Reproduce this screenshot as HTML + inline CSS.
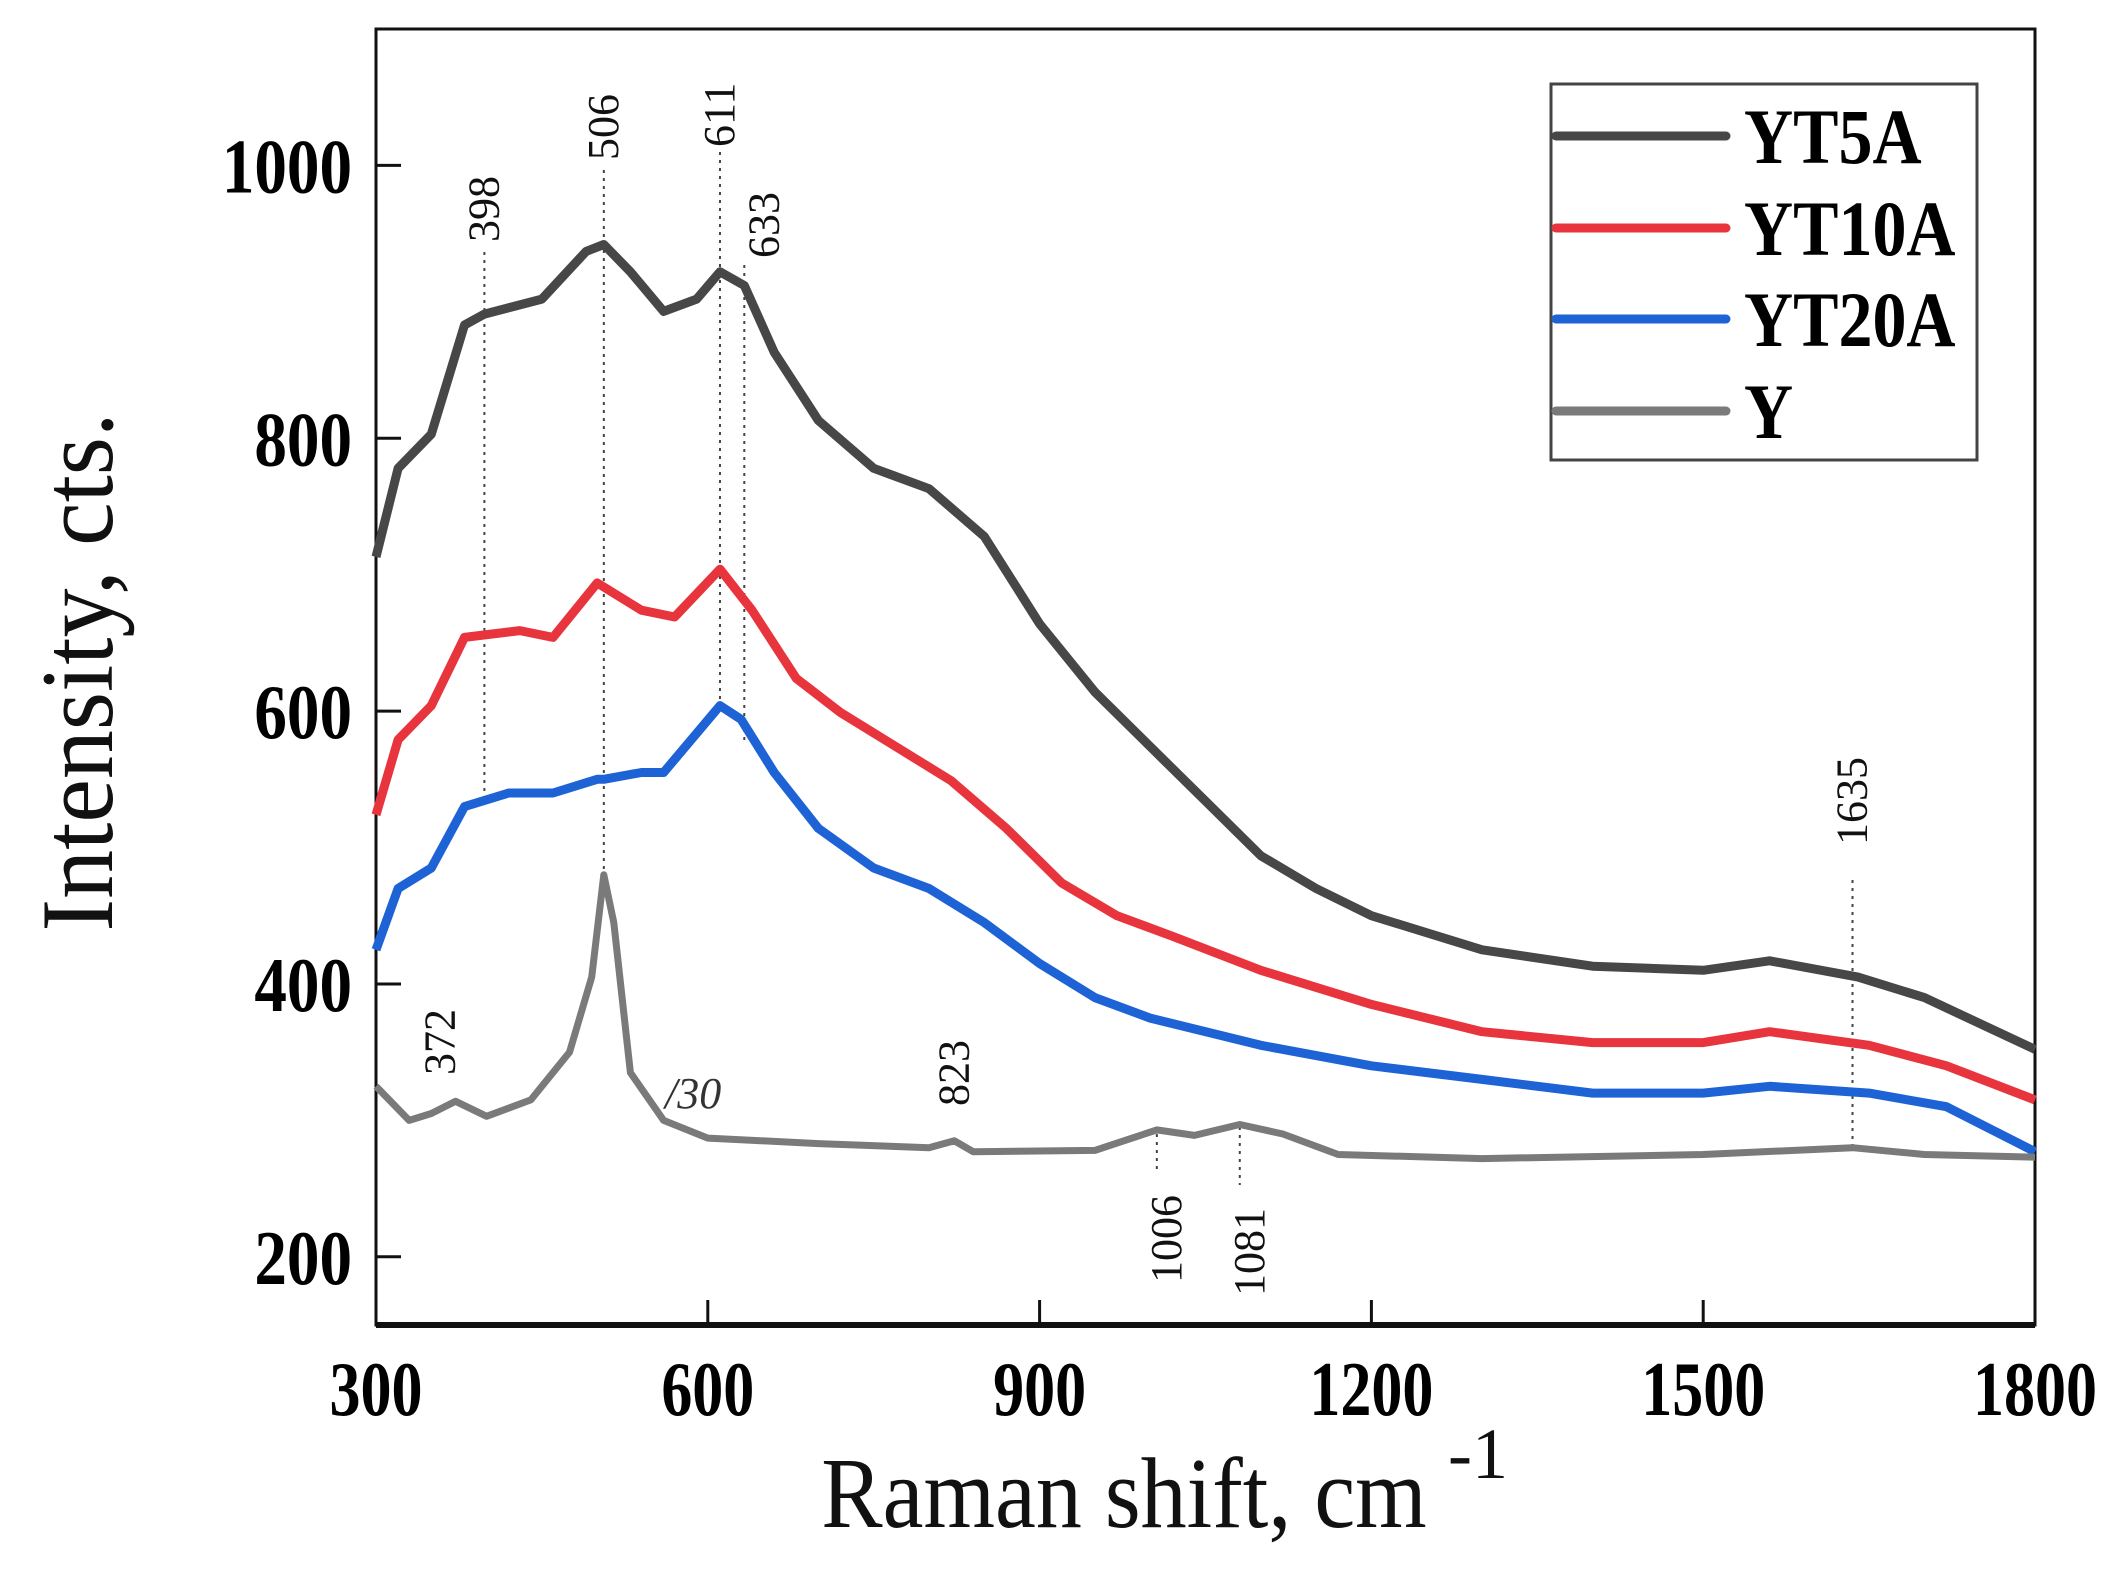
<!DOCTYPE html>
<html><head><meta charset="utf-8"><style>
html,body{margin:0;padding:0;background:#fff;}
svg{display:block;}
text{font-family:"Liberation Serif",serif;}
</style></head><body>
<svg id="chart" width="2128" height="1582" viewBox="0 0 2128 1582" xmlns="http://www.w3.org/2000/svg">
<g id="plot"></g>
</svg>
<script>
const xTicks = [300, 600, 900, 1200, 1500, 1800];
const yTicks = [200, 400, 600, 800, 1000];
const seriesNames = ["YT5A", "YT10A", "YT20A", "Y"];
const seriesColors = ["#474747", "#e8343c", "#1e63d6", "#7a7a7a"];
const xYT5A = [300,320,350,380,398,450,490,506,530,560,590,611,633,660,700,750,800,850,900,950,1000,1050,1100,1150,1200,1300,1400,1500,1560,1640,1700,1800];
const vYT5A = [713,778,803,883,891,902,937,942,922,893,902,922,912,863,813,778,763,728,664,614,574,534,494,470,450,425,413,410,417,405,390,352];
const xYT10A = [300,320,350,380,430,460,500,540,570,611,640,680,720,780,820,870,920,970,1020,1100,1200,1300,1400,1500,1560,1650,1720,1800];
const vYT10A = [524,579,604,654,659,654,694,674,669,704,674,624,599,569,549,514,474,450,435,410,385,365,357,357,365,355,340,315];
const xYT20A = [300,320,350,380,420,460,500,506,540,560,611,630,660,700,750,800,850,900,950,1000,1100,1200,1300,1400,1500,1560,1650,1720,1800];
const vYT20A = [425,470,485,530,540,540,550,550,555,555,604,594,555,514,485,470,445,415,390,375,355,340,330,320,320,325,320,310,277];
const xY = [300,330,350,372,400,440,475,495,506,515,530,560,600,700,800,823,840,950,1006,1040,1081,1120,1170,1300,1500,1635,1700,1800];
const vY = [325,300,305,314,303,315,350,405,480,445,335,300,287,283,280,285,277,278,293,289,297,290,275,272,275,280,275,273];
const peakLabels = ["398","506","611","633","1635","372","823","1006","1081"];
const peakPos = [398,506,611,633,1635,372,823,1006,1081];

const NS = "http://www.w3.org/2000/svg";
const g = document.getElementById('plot');
const L=376,R=2035,T=29,B=1325;
function xs(v){return L+(v-300)*(R-L)/1500;}
function ys(v){return T+(1100-v)*(B-T)/950;}
function mk(tag,attrs,parent){const e=document.createElementNS(NS,tag);for(const k in attrs)e.setAttribute(k,attrs[k]);(parent||g).appendChild(e);return e;}

let fr=mk('rect',{x:L,y:T,width:R-L,height:B-T,fill:'none',stroke:'#111','stroke-width':3});


let bl=mk('line',{x1:L,y1:B,x2:R,y2:B,stroke:'#111','stroke-width':6});



xTicks.forEach(t=>{
  const x=xs(t);
  const tk=mk('line',{x1:x,y1:B,x2:x,y2:B-25,stroke:'#111','stroke-width':3});
  
  
  const tx=mk('text',{x:0,y:0,'text-anchor':'middle','font-size':62,'font-weight':'bold',fill:'#000',transform:`translate(${x},1415) scale(1,1.25)`});
  tx.textContent=t;
  
  
});
yTicks.forEach(t=>{
  const y=ys(t);
  const tk=mk('line',{x1:L,y1:y,x2:L+25,y2:y,stroke:'#111','stroke-width':3});
  
  
  const tx=mk('text',{x:0,y:0,'text-anchor':'end','font-size':62,'font-weight':'bold',fill:'#000',transform:`translate(352,${y+27}) scale(1.05,1.25)`});
  tx.textContent=t;
  
  
});
let xt=mk('text',{x:0,y:0,'text-anchor':'middle','font-size':92,fill:'#111',transform:'translate(1124,1527) scale(1,1.1)'});
xt.textContent='Raman shift, cm';


let sup=mk('text',{x:1448,y:1478,'font-size':72,fill:'#111'});
sup.textContent='-1';


let yt=mk('text',{x:0,y:0,'text-anchor':'middle','font-size':98,fill:'#111',transform:'translate(112,672) rotate(-90) scale(1,1.05)'});
yt.textContent='Intensity, cts.';



const lineSpans=[[252,800],[170,885],[152,707],[265,740],[880,1148],[null,null],[null,null],[1134,1170],[1127,1185]];
peakPos.forEach((p,i)=>{
  if(lineSpans[i][0]!==null){
    const dl=mk('line',{x1:xs(p),y1:lineSpans[i][0],x2:xs(p),y2:lineSpans[i][1],stroke:'#444','stroke-width':2,'stroke-dasharray':'3,5'});
    
    
  }
});
const lblPos=[[0,242],[0,160],[0,147],[20,258],[0,845],[-15,1075],[0,1106],[10,1283],[10,1296]];
peakPos.forEach((p,i)=>{
  const cx=xs(p)+lblPos[i][0]+14, cy=lblPos[i][1];
  const t=mk('text',{x:0,y:0,'font-size':44,fill:'#111',transform:`translate(${cx},${cy}) rotate(-90)`});
  t.textContent=peakLabels[i];
  
  
});
let d30=mk('text',{x:665,y:1108,'font-size':44,'font-style':'italic',fill:'#333'});
d30.textContent='/30';



const allX=[xYT5A,xYT10A,xYT20A,xY], allV=[vYT5A,vYT10A,vYT20A,vY];
const widths=[9,9,9,7];
allX.forEach((xa,si)=>{
  const d=xa.map((x,i)=>(i?'L':'M')+xs(x).toFixed(1)+','+ys(allV[si][i]).toFixed(1)).join(' ');
  const p=mk('path',{d:d,fill:'none',stroke:seriesColors[si],'stroke-width':widths[si],'stroke-linejoin':'round'});
  
  
});

const lg=mk('g',{});


let lr=mk('rect',{x:1551,y:84,width:426,height:376,fill:'#fff',stroke:'#444','stroke-width':3},lg);


const rows=[136,228,319,411];
seriesNames.forEach((n,i)=>{
  const ln=mk('line',{x1:1556,y1:rows[i],x2:1726,y2:rows[i],stroke:seriesColors[i],'stroke-width':9,'stroke-linecap':'round'},lg);
  
  
  const t=mk('text',{x:0,y:0,'font-size':68,'font-weight':'bold',fill:'#000',transform:`translate(1744,${rows[i]+27}) scale(1,1.15)`},lg);
  t.textContent=n;
  
  
});
</script>
</body></html>
